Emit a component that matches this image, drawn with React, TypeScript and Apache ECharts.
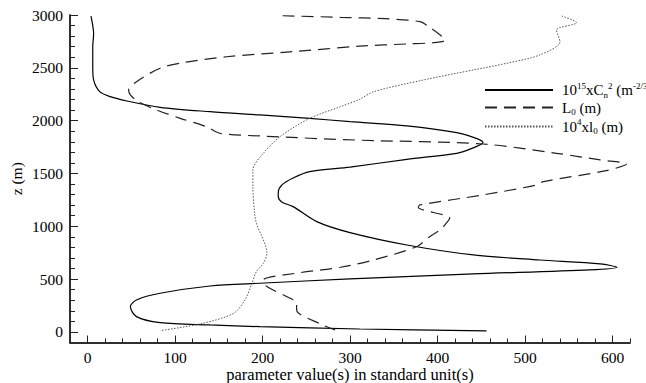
import React, { useEffect, useRef } from "react";
import * as echarts from "echarts";

// [value, z(m)] pairs, ordered from top to bottom
const cn2Profile: number[][] = [
  [4, 2990], [6, 2900], [7, 2827], [6, 2700], [6, 2511], [7, 2385], [14, 2274], [26, 2227],
  [45, 2186], [83, 2126], [140, 2085], [197, 2054], [254, 2022], [300, 1990], [365, 1950],
  [422, 1886], [445, 1830], [452, 1792], [440, 1740], [422, 1691], [365, 1634], [300, 1560],
  [254, 1517], [235, 1457], [222, 1390], [218, 1320], [218, 1281], [222, 1230], [235, 1186],
  [262, 1044], [300, 940], [365, 823], [441, 729], [517, 681], [586, 644], [605, 612],
  [574, 587], [441, 549], [300, 502], [197, 461], [140, 435], [83, 366], [56, 303],
  [49, 240], [56, 145], [83, 88], [140, 66], [197, 50], [311, 28], [456, 10],
];

const outerScaleProfile: number[][] = [
  [223, 2993], [289, 2978], [340, 2965], [380, 2937], [390, 2890], [403, 2811], [409, 2763],
  [395, 2738], [365, 2726], [311, 2705], [235, 2653], [159, 2605], [109, 2549], [83, 2496],
  [56, 2369], [47, 2290], [49, 2243], [58, 2180], [79, 2101], [106, 2022], [136, 1943],
  [151, 1881], [197, 1855], [311, 1815], [452, 1779], [536, 1691], [586, 1628], [616, 1590],
  [593, 1527], [521, 1423], [513, 1391], [452, 1297], [380, 1202], [378, 1180], [414, 1076],
  [410, 1029], [403, 965], [391, 902], [376, 807], [327, 681], [289, 612], [243, 561],
  [201, 492], [205, 429], [228, 334], [239, 272], [239, 208], [266, 76], [283, 19],
];

const innerScaleProfile: number[][] = [
  [542, 2990], [559, 2927], [536, 2858], [540, 2747], [517, 2622], [479, 2543], [441, 2480],
  [384, 2385], [327, 2274], [311, 2202], [289, 2132], [254, 2022], [220, 1848], [201, 1691],
  [189, 1533], [189, 1375], [191, 1123], [193, 1029], [205, 745], [201, 650], [193, 571],
  [188, 461], [180, 303], [167, 177], [132, 82], [83, 12],
];

const xLabelValues = [0, 100, 200, 300, 400, 500, 600];
const xMinorValues = [0, 20, 40, 60, 80, 100, 120, 140, 160, 180, 200, 220, 240, 260, 280, 300, 320, 340, 360, 380, 400, 420, 440, 460, 480, 500, 520, 540, 560, 580, 600, 620];
const yLabelValues = [0, 500, 1000, 1500, 2000, 2500, 3000];
const yMinorValues = [0, 100, 200, 300, 400, 500, 600, 700, 800, 900, 1000, 1100, 1200, 1300, 1400, 1500, 1600, 1700, 1800, 1900, 2000, 2100, 2200, 2300, 2400, 2500, 2600, 2700, 2800, 2900, 3000];

const seriesNames = ["Cn2", "L0", "l0"];
const legendLabels: Record<string, string> = {
  Cn2: "{n|10}{sup|15}{n|xC}{sub|n}{sup|2}{n| (m}{sup|-2/3}{n|)}",
  L0: "{n|L}{sub|0}{n| (m)}",
  l0: "{n|10}{sup|4}{n|xl}{sub|0}{n| (m)}",
};

const FONT = "Liberation Serif";
const AXIS_COLOR = "#222";

export default function App() {
  const ref = useRef<HTMLDivElement>(null);
  useEffect(() => {
    document.body.style.margin = "0";
    const chart = echarts.init(ref.current!, undefined, { renderer: "svg" });
    const plain = (v: number) => String(v);
    const xBase = {
      type: "value",
      min: -20,
      max: 620,
      splitLine: { show: false },
      axisLine: { show: true, onZero: false, lineStyle: { color: AXIS_COLOR, width: 1.5 } },
    };
    const yBase = {
      type: "value",
      min: -100,
      max: 3000,
      position: "left",
      splitLine: { show: false },
      axisLine: { show: true, onZero: false, lineStyle: { color: AXIS_COLOR, width: 1.5 } },
    };
    chart.setOption({
      animation: false,
      textStyle: { fontFamily: FONT },
      grid: { left: 70, right: 16, top: 15, bottom: 40.5, containLabel: false, outerBoundsMode: "none" },
      legend: {
        orient: "vertical",
        left: 484,
        top: 81,
        padding: 0,
        itemWidth: 68,
        itemHeight: 10,
        itemGap: 1,
        data: seriesNames,
        itemStyle: { opacity: 0 },
        formatter: (name: string) => legendLabels[name],
        textStyle: {
          color: "#000",
          fontFamily: FONT,
          fontSize: 15,
          padding: [0, 0, 0, 4],
          rich: {
            n: { fontFamily: FONT, fontSize: 15, lineHeight: 18, color: "#000" },
            sup: { fontFamily: FONT, fontSize: 9, lineHeight: 9, verticalAlign: "top", color: "#000" },
            sub: { fontFamily: FONT, fontSize: 9, lineHeight: 9, verticalAlign: "bottom", color: "#000" },
          },
        },
      },
      xAxis: [
        {
          ...xBase,
          name: "parameter value(s) in standard unit(s)",
          nameLocation: "middle",
          nameGap: 23,
          nameMoveOverlap: false,
          nameTextStyle: { fontFamily: FONT, fontSize: 16.5, color: "#000" },
          axisTick: { show: true, inside: true, length: 7, customValues: xLabelValues, lineStyle: { color: AXIS_COLOR } },
          axisLabel: { show: true, customValues: xLabelValues, formatter: plain, margin: 7, fontFamily: FONT, fontSize: 15.5, color: "#000" },
        },
        {
          ...xBase,
          position: "bottom",
          offset: 0,
          axisTick: { show: true, inside: true, length: 4, customValues: xMinorValues, lineStyle: { color: AXIS_COLOR } },
          axisLabel: { show: false },
        },
      ],
      yAxis: [
        {
          ...yBase,
          name: "z (m)",
          nameLocation: "middle",
          nameGap: 46,
          nameMoveOverlap: false,
          nameTextStyle: { fontFamily: FONT, fontSize: 15.5, color: "#000" },
          axisTick: { show: true, inside: true, length: 8, customValues: yLabelValues, lineStyle: { color: AXIS_COLOR } },
          axisLabel: { show: true, customValues: yLabelValues, formatter: plain, margin: 7, fontFamily: FONT, fontSize: 15.5, color: "#000" },
        },
        {
          ...yBase,
          offset: 0,
          axisTick: { show: true, inside: true, length: 5, customValues: yMinorValues, lineStyle: { color: AXIS_COLOR } },
          axisLabel: { show: false },
        },
      ],
      series: [
        {
          name: "Cn2",
          type: "line",
          data: cn2Profile,
          showSymbol: false,
          symbol: "none",
          smooth: 0.3,
          lineStyle: { color: "#000", width: 1.2, type: "solid" },
          itemStyle: { color: "#000" },
        },
        {
          name: "L0",
          type: "line",
          data: outerScaleProfile,
          showSymbol: false,
          symbol: "none",
          smooth: 0.3,
          lineStyle: { color: "#222", width: 1.2, type: [12, 7] },
          itemStyle: { color: "#222" },
        },
        {
          name: "l0",
          type: "line",
          data: innerScaleProfile,
          showSymbol: false,
          symbol: "none",
          smooth: 0.3,
          lineStyle: { color: "#555", width: 1, type: [1.5, 1.5] },
          itemStyle: { color: "#555" },
        },
      ],
    });
    return () => chart.dispose();
  }, []);
  return <div ref={ref} style={{ width: 646, height: 383 }} />;
}
